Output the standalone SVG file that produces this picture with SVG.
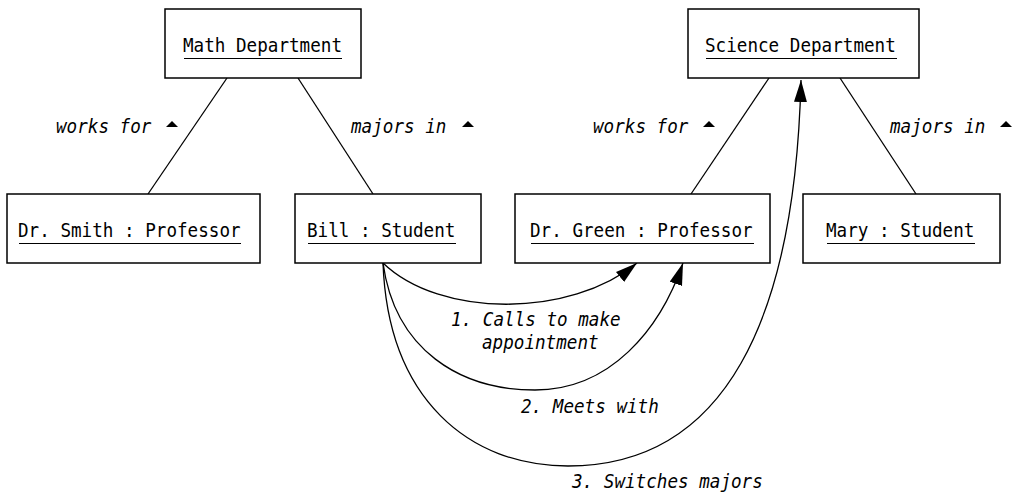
<svg xmlns="http://www.w3.org/2000/svg" width="1016" height="494" viewBox="0 0 1016 494">
<style>
.box{fill:#fff;stroke:#000;stroke-width:1.5}
.t{font-family:"DejaVu Sans Mono","Liberation Mono",monospace;font-size:20px;fill:#000}
.u{stroke:#000;stroke-width:1}
.lbl{font-family:"DejaVu Sans Mono","Liberation Mono",monospace;font-size:20px;font-style:italic;fill:#000}
.ln{fill:none;stroke:#000;stroke-width:1.3}
.tri{fill:#000}
</style>
<defs>
<marker id="ah" markerUnits="userSpaceOnUse" markerWidth="24" markerHeight="14" refX="22" refY="6.5" orient="auto">
<path d="M0,0 L22,6.5 L0,13 Z" fill="#000"/>
</marker>
</defs>
<g id="connectors">
<line class="ln" x1="227" y1="78" x2="148" y2="194"/>
<line class="ln" x1="298" y1="78" x2="373" y2="194"/>
<line class="ln" x1="769" y1="78" x2="691" y2="194"/>
<line class="ln" x1="840" y1="78" x2="916" y2="194"/>
<path class="ln" d="M383,263 C440,318 570,318 637,263" marker-end="url(#ah)"/>
<path class="ln" d="M383,263 C395,350 460,390 535,390 C610,390 660,330 683,263" marker-end="url(#ah)"/>
<path class="ln" d="M383,263 C388,400 470,466 568,466 C725,466 795,320 801,80" marker-end="url(#ah)"/>
<text class="lbl" x="56" y="133" textLength="95.4" lengthAdjust="spacingAndGlyphs">works for</text>
<polygon class="tri" points="166,127 172,121 178,127"/>
<text class="lbl" x="351" y="133" textLength="95.4" lengthAdjust="spacingAndGlyphs">majors in</text>
<polygon class="tri" points="462,127 468,121 474,127"/>
<text class="lbl" x="593" y="133" textLength="95.4" lengthAdjust="spacingAndGlyphs">works for</text>
<polygon class="tri" points="703,127 709,121 715,127"/>
<text class="lbl" x="890" y="133" textLength="95.4" lengthAdjust="spacingAndGlyphs">majors in</text>
<polygon class="tri" points="1000,127 1006,121 1012,127"/>
<text class="lbl" x="451" y="326" textLength="169.6" lengthAdjust="spacingAndGlyphs">1. Calls to make</text>
<text class="lbl" x="482" y="349" textLength="116.6" lengthAdjust="spacingAndGlyphs">appointment</text>
<text class="lbl" x="521" y="413" textLength="137.8" lengthAdjust="spacingAndGlyphs">2. Meets with</text>
<text class="lbl" x="572" y="488" textLength="190.8" lengthAdjust="spacingAndGlyphs">3. Switches majors</text>
</g>
<g id="math">
<rect class="box" x="165" y="9" width="196" height="69"/>
<text class="t" x="183" y="52" textLength="159" lengthAdjust="spacingAndGlyphs">Math Department</text>
<line class="u" x1="184" y1="58.5" x2="342" y2="58.5"/>
</g>
<g id="science">
<rect class="box" x="688" y="9" width="231" height="69"/>
<text class="t" x="705" y="52" textLength="190.8" lengthAdjust="spacingAndGlyphs">Science Department</text>
<line class="u" x1="706" y1="58.5" x2="897" y2="58.5"/>
</g>
<g id="smith">
<rect class="box" x="7" y="194" width="253" height="69"/>
<text class="t" x="18" y="237" textLength="222.6" lengthAdjust="spacingAndGlyphs">Dr. Smith : Professor</text>
<line class="u" x1="19" y1="243.5" x2="241" y2="243.5"/>
</g>
<g id="bill">
<rect class="box" x="295" y="194" width="186" height="69"/>
<text class="t" x="307" y="237" textLength="148.4" lengthAdjust="spacingAndGlyphs">Bill : Student</text>
<line class="u" x1="308" y1="243.5" x2="456" y2="243.5"/>
</g>
<g id="green">
<rect class="box" x="515" y="194" width="255" height="69"/>
<text class="t" x="530" y="237" textLength="222.6" lengthAdjust="spacingAndGlyphs">Dr. Green : Professor</text>
<line class="u" x1="531" y1="243.5" x2="754" y2="243.5"/>
</g>
<g id="mary">
<rect class="box" x="803" y="194" width="197" height="69"/>
<text class="t" x="826" y="237" textLength="148.4" lengthAdjust="spacingAndGlyphs">Mary : Student</text>
<line class="u" x1="827" y1="243.5" x2="975" y2="243.5"/>
</g>
</svg>
